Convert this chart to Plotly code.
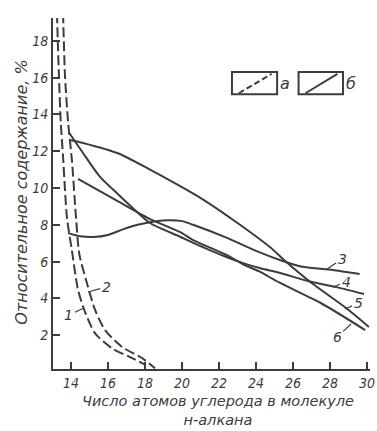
import plotly.graph_objects as go

# ---- data ----
c1_x = [13.24, 13.35, 13.45, 13.57, 13.78, 14.05, 14.38, 14.76, 15.3, 16.2, 17.3, 18.0]
c1_y = [19.5, 16.0, 13.5, 11.7, 8.4, 6.6, 4.46, 3.26, 2.1, 1.3, 0.76, 0.4]

c2_x = [13.57, 13.68, 13.85, 14.05, 14.27, 14.45, 14.86, 15.3, 15.84, 16.76, 17.84, 18.54]
c2_y = [19.5, 16.0, 13.5, 11.5, 8.4, 6.4, 4.84, 3.37, 2.28, 1.36, 0.76, 0.2]

c3_x = [13.84, 14.5, 15.2, 16.0, 16.8, 17.6, 18.5, 19.3, 20.0, 20.6, 22.4, 24.2, 25.4, 26.5, 27.8, 29.6]
c3_y = [7.55, 7.38, 7.34, 7.45, 7.75, 8.0, 8.18, 8.25, 8.2, 8.0, 7.3, 6.5, 6.05, 5.72, 5.58, 5.33]

c4_x = [13.9, 14.65, 15.57, 16.5, 17.35, 18.27, 19.9, 20.6, 22.4, 23.3, 24.2, 25.3, 26.9, 28.4, 29.84]
c4_y = [13.0, 11.9, 10.6, 9.7, 8.9, 8.1, 7.35, 7.02, 6.25, 5.92, 5.65, 5.38, 4.92, 4.6, 4.24]

c5_x = [14.0, 14.65, 16.5, 18.27, 19.9, 21.1, 23.0, 24.8, 25.5, 26.9, 28.9, 30.1]
c5_y = [12.6, 12.45, 11.9, 11.0, 10.1, 9.4, 8.1, 6.75, 6.1, 4.92, 3.45, 2.45]

c6_x = [14.38, 16.5, 18.3, 19.9, 20.6, 22.4, 23.3, 24.2, 25.3, 27.5, 29.9]
c6_y = [10.5, 9.3, 8.3, 7.6, 7.17, 6.36, 5.85, 5.45, 4.84, 3.75, 2.28]

x_ticks = [14, 16, 18, 20, 22, 24, 26, 28, 30]
y_ticks = [2, 4, 6, 8, 10, 12, 14, 16, 18]

curve_labels = ["1", "2", "3", "4", "5", "6"]
label_pts_x = [14.70, 14.92, 27.84, 28.16, 28.81, 29.14]
label_pts_y = [3.48, 4.35, 5.60, 4.62, 3.42, 2.61]
label_ax = [-15, 18, 15, 13, 13, -14]
label_ay = [7, -5, -10, -5, -6, 13]

legend_labels = ["а", "б"]

x_title = "Число атомов углерода в молекуле<br>н-алкана"
y_title = "Относительное содержание, %"

# ---- style ----
INK = "#3c3c3c"
FONT = "DejaVu Sans, Liberation Sans, sans-serif"
NARROW = "DejaVu Sans Condensed, Liberation Sans Narrow, DejaVu Sans, sans-serif"

fig = go.Figure()

for xs, ys, dash in [(c1_x, c1_y, "10px,4px"), (c2_x, c2_y, "10px,4px"),
                     (c3_x, c3_y, "solid"), (c4_x, c4_y, "solid"),
                     (c5_x, c5_y, "solid"), (c6_x, c6_y, "solid")]:
    fig.add_trace(go.Scatter(x=xs, y=ys, mode="lines",
                             line=dict(color=INK, width=2, dash=dash,
                                       shape="spline", smoothing=0.7),
                             showlegend=False, hoverinfo="skip"))

# curve labels with leader lines
for t, x, y, ax, ay in zip(curve_labels, label_pts_x, label_pts_y, label_ax, label_ay):
    fig.add_annotation(x=x, y=y, text="<i>%s</i>" % t, showarrow=True,
                       arrowhead=0, arrowwidth=1.2, arrowcolor=INK,
                       ax=ax, ay=ay, standoff=0, startstandoff=0,
                       font=dict(family=FONT, size=14, color=INK))

# legend boxes (a: dashed, б: solid)
boxes = [(22.7, 25.14, "dash"), (26.3, 28.7, "solid")]
for (x0, x1, d), lab in zip(boxes, legend_labels):
    fig.add_shape(type="rect", x0=x0, x1=x1, y0=15.1, y1=16.3,
                  line=dict(color=INK, width=2), xref="x", yref="y")
    fig.add_shape(type="line", x0=x0 + 0.37, y0=15.15, x1=x1 - 0.3, y1=16.2,
                  line=dict(color=INK, width=2, dash="6px,3px" if d == "dash" else "solid"),
                  xref="x", yref="y")
    fig.add_annotation(x=x1 + 0.45, y=15.7, text="<i>%s</i>" % lab, showarrow=False,
                       font=dict(family=FONT, size=16, color=INK))

# axis titles
fig.add_annotation(x=0.52, y=-0.064, xref="paper", yref="paper", text="<i>%s</i>" % x_title,
                   showarrow=False, yanchor="top", font=dict(family=FONT, size=14.5, color=INK))
fig.add_annotation(x=-0.098, y=0.505, xref="paper", yref="paper", text="<i>%s</i>" % y_title,
                   showarrow=False, textangle=-90, xanchor="center",
                   font=dict(family=FONT, size=16, color=INK))

axis_common = dict(showgrid=False, zeroline=False, showline=True, linecolor=INK, linewidth=2,
                   ticks="inside", ticklen=7, tickwidth=1.5, tickcolor=INK, automargin=False,
                   ticklabeloverflow="allow",
                   tickfont=dict(family=NARROW, size=14, color=INK))

fig.update_xaxes(range=[13.027, 30.16], tickvals=x_ticks,
                 ticktext=["<i>%d</i>" % v for v in x_ticks], **axis_common)
fig.update_yaxes(range=[0.163, 19.24], tickvals=y_ticks,
                 ticktext=["<i>%d</i>" % v for v in y_ticks], **axis_common)

fig.update_layout(width=377, height=431, margin=dict(l=53, r=7, t=18, b=62, autoexpand=False),
                  plot_bgcolor="white", paper_bgcolor="white")

# remove the default page margin so the figure fills the window exactly
fig.write_html("out.html", config={"displayModeBar": False},
               post_script="document.body.style.margin='0';document.body.style.overflow='hidden';")
